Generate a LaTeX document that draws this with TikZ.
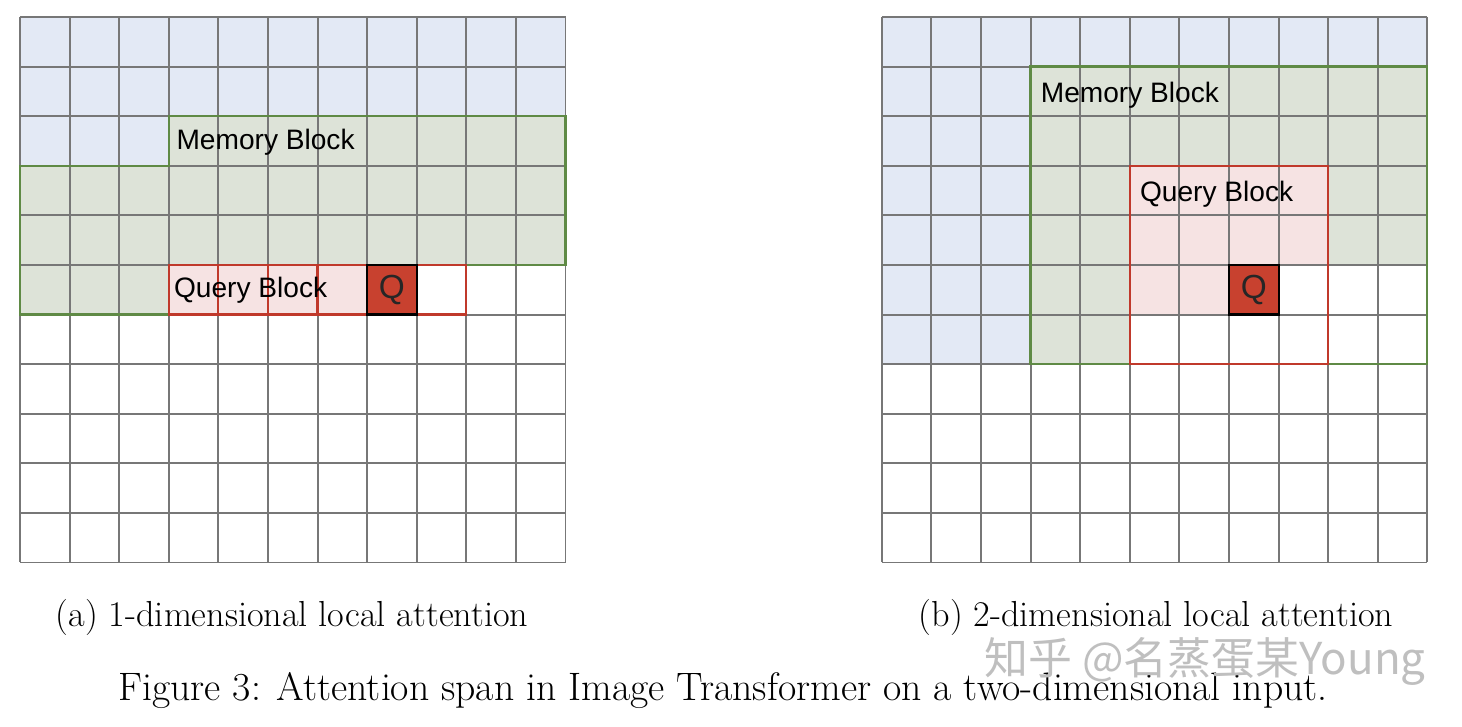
\documentclass[tikz,border=0pt]{standalone}
\usepackage{fontspec}
\newfontfamily\labelfont{Liberation Sans}
\newfontfamily\cjkfont{Noto Sans CJK SC}
\usetikzlibrary{positioning}

\definecolor{memblue}{HTML}{E3E9F5}
\definecolor{memgreen}{HTML}{DDE3D8}
\definecolor{greenline}{HTML}{5F8A45}
\definecolor{redline}{HTML}{C0392B}
\definecolor{qpink}{HTML}{F6E3E3}
\definecolor{qred}{HTML}{C8412F}
\definecolor{gridgray}{HTML}{777777}

\begin{document}
\begin{tikzpicture}[x=0.02cm, y=-0.02cm,
    cellgrid/.style={draw=gridgray, line width=1.1pt},
    memline/.style={draw=greenline, line width=1.3pt},
    qline/.style={draw=redline, line width=1.2pt},
    qcell/.style={draw=black, line width=1.2pt},
    lbl/.style={font=\labelfont\fontsize{16}{18}\selectfont, inner sep=0pt, anchor=west},
    qtxt/.style={font=\labelfont\fontsize{19}{21}\selectfont, inner sep=0pt, text=black!85},
    subcap/.style={font=\fontsize{20.6}{24}\selectfont, inner sep=0pt},
    figcap/.style={font=\fontsize{22.6}{26}\selectfont, inner sep=0pt}
  ]
    \useasboundingbox (0,0) rectangle (1462,726);

    % (a) 1-dimensional local attention
    \begin{scope}[shift={(0.4cm,-0.34cm)}, x=0.992cm, y=-0.992cm]
      \fill[memblue] (0,0) rectangle (11,2);
      \fill[memblue] (0,2) rectangle (3,3);
      \fill[memgreen] (3,2) -- (11,2) -- (11,5) -- (3,5) -- (3,6) -- (0,6) -- (0,3) -- (3,3) -- cycle;
      \fill[qpink] (3,5) rectangle (7,6);
      \fill[qred] (7,5) rectangle (8,6);
      \foreach \i in {0,...,11} {
        \draw[cellgrid] (\i,0) -- (\i,11);
        \draw[cellgrid] (0,\i) -- (11,\i);
      }
      \draw[memline] (3,2) -- (11,2) -- (11,5) -- (3,5) -- (3,6) -- (0,6) -- (0,3) -- (3,3) -- cycle;
      \draw[qline] (3,5) rectangle (9,6);
      \foreach \i in {4,...,8}
        \draw[qline] (\i,5) -- (\i,6);
      \draw[qcell] (7,5) rectangle (8,6);
      \node[lbl] (mem1) at (3.15,2.53) {Memory Block};
      \node[lbl] (query1) at (3.1,5.5) {Query Block};
      \node[qtxt] (q1) at (7.5,5.5) {Q};
    \end{scope}

    % (b) 2-dimensional local attention
    \begin{scope}[shift={(17.64cm,-0.34cm)}, x=0.992cm, y=-0.992cm]
      \fill[memblue] (0,0) rectangle (11,1);
      \fill[memblue] (0,1) rectangle (3,7);
      \fill[memgreen] (3,1) rectangle (11,5);
      \fill[memgreen] (3,5) rectangle (5,7);
      \fill[qpink] (5,3) rectangle (9,5);
      \fill[qpink] (5,5) rectangle (7,6);
      \fill[qred] (7,5) rectangle (8,6);
      \foreach \i in {0,...,11} {
        \draw[cellgrid] (\i,0) -- (\i,11);
        \draw[cellgrid] (0,\i) -- (11,\i);
      }
      \draw[memline] (3,1) rectangle (11,7);
      \draw[qline] (5,3) rectangle (9,7);
      \draw[qcell] (7,5) rectangle (8,6);
      \node[lbl] (mem2) at (3.2,1.57) {Memory Block};
      \node[lbl] (query2) at (5.2,3.57) {Query Block};
      \node[qtxt] (q2) at (7.5,5.5) {Q};
    \end{scope}

    \node[subcap] (cap1) at (292,617) {(a) 1-dimensional local attention};
    \node[subcap] (cap2) at (1156,617) {(b) 2-dimensional local attention};
    \node[figcap] (fig) at (723,691) {Figure 3: Attention span in Image Transformer on a two-dimensional input.};
    \node[font=\cjkfont\fontsize{25}{28}\selectfont, text=black!25, inner sep=0pt] (mark) at (1205,661) {知乎 @名蒸蛋某Young};
  \end{tikzpicture}
\end{document}
